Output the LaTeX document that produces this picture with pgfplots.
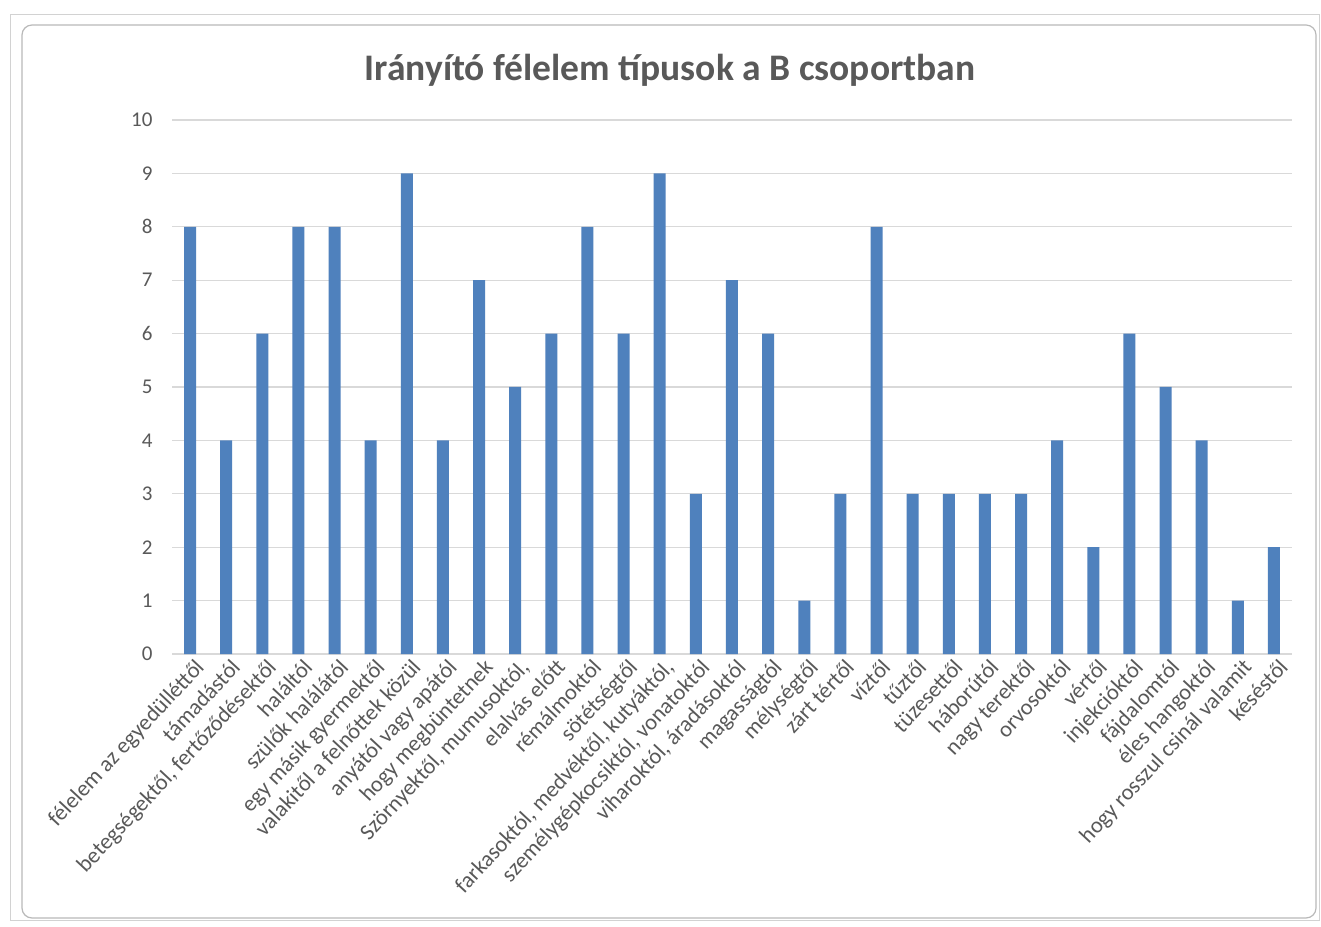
\documentclass[border=0pt]{standalone}
\usepackage{pgfplots}
\pgfplotsset{compat=1.18}
\usepackage{fontspec}
\setmainfont{Carlito}
\definecolor{barblue}{HTML}{4F81BD}
\definecolor{txtgray}{HTML}{595959}
\definecolor{gridgray}{HTML}{D9D9D9}
\begin{document}
\begin{tikzpicture}
\path (0pt,0pt) rectangle (1321pt,926pt);
\draw[gray!35, line width=1pt] (10pt,6pt) rectangle (1319pt,911pt);
\draw[gray!55, line width=1.2pt, rounded corners=10pt, fill=white] (22pt,8pt) rectangle (1316pt,901pt);
\node[text=txtgray, font=\fontsize{37.5}{42}\selectfont\bfseries] at (670pt,856pt) {Irányító félelem típusok a B csoportban};
\begin{axis}[
  at={(172pt,272pt)}, anchor=south west,
  scale only axis, width=1120pt, height=534pt,
  xmin=-0.5, xmax=30.5, ymin=0, ymax=10,
  ytick={0,1,...,10},
  xtick={0,1,...,30},
  xticklabels={félelem az egyedülléttől,támadástól,{betegségektől, fertőződésektől},haláltól,szülők halálától,egy másik gyermektől,valakitől a felnőttek közül,anyától vagy apától,hogy megbüntetnek,{Szörnyektől, mumusoktól,},elalvás előtt,rémálmoktól,sötétségtől,{farkasoktól, medvéktől, kutyáktól,},{személygépkocsiktól, vonatoktól},{viharoktól, áradásoktól},magasságtól,mélységtől,zárt tértől,víztől,tűztől,tüzesettől,háborútól,nagy terektől,orvosoktól,vértől,injekcióktól,fájdalomtól,éles hangoktól,hogy rosszul csinál valamit,késéstől},
  xticklabel style={rotate=47, anchor=north east, inner sep=1pt, xshift=1pt, yshift=-4pt, font=\fontsize{22.5}{26}\selectfont, text=txtgray},
  yticklabel style={font=\fontsize{21}{24}\selectfont, text=txtgray, xshift=-16pt},
  /pgf/number format/assume math mode=true,
  major tick length=0pt,
  ymajorgrids, grid style={gridgray, line width=1.2pt},
  axis x line*=bottom, axis y line*=left,
  x axis line style={gridgray, line width=1.4pt, -},
  y axis line style={draw=none},
  ybar, bar width=12pt,
]
\addplot[fill=barblue, draw=none] coordinates {
(0,8) (1,4) (2,6) (3,8) (4,8) (5,4) (6,9) (7,4) (8,7) (9,5)
(10,6) (11,8) (12,6) (13,9) (14,3) (15,7) (16,6) (17,1) (18,3) (19,8)
(20,3) (21,3) (22,3) (23,3) (24,4) (25,2) (26,6) (27,5) (28,4) (29,1) (30,2)
};
\end{axis}
\end{tikzpicture}
\end{document}
